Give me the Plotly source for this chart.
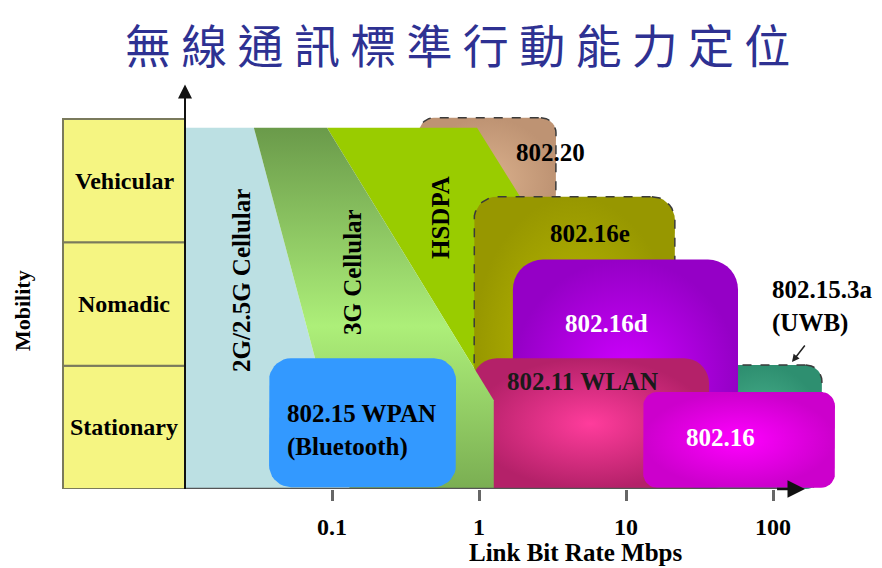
import numpy as np
import plotly.graph_objects as go

# ---------------- data ----------------
title_text = "無 線 通 訊 標 準 行 動 能 力 定 位"
mobility_levels = ["Stationary", "Nomadic", "Vehicular"]   # mobility 0-1, 1-2, 2-3
tick_rates = [0.1, 1, 10, 100]
tick_labels = ["0.1", "1", "10", "100"]
x_title = "Link Bit Rate Mbps"
y_title = "Mobility"

# cellular regions (polygons): link rate in Mbps, mobility level 0..3
cell2g_rate = [0.01, 0.0294, 0.132, 0.01]
cell2g_mob = [2.93, 2.93, 0.0, 0.0]
cell3g_rate = [0.0294, 0.0925, 1.26, 1.26, 0.132]
cell3g_mob = [2.93, 2.93, 0.72, 0.0, 0.0]
hsdpa_rate = [0.0925, 0.97, 32.9, 1.26, 1.26]
hsdpa_mob = [2.93, 2.93, 0.0, 0.0, 0.72]

# standards drawn as rounded boxes
std_names = ["802.20", "802.16e", "802.15.3a", "802.16d", "802.11 WLAN", "802.16", "802.15 WPAN"]
std_rate_lo = [0.39, 0.925, 33.0, 1.70, 0.895, 13.1, 0.0373]
std_rate_hi = [3.34, 21.5, 215.0, 57.8, 36.7, 264.0, 0.698]
std_mob_lo = [2.0, 0.0, 0.0, 0.0, 0.0, 0.01, 0.015]
std_mob_hi = [3.01, 2.37, 1.005, 1.86, 1.06, 0.787, 1.06]
axis_origin_rate = 0.01
axis_end_rate = 165.0
axis_top_mob = 3.28

# ---------------- layout geometry (pixels) ----------------
W, H = 882, 568
PB = 489            # pixel row of the x axis
DEC = 147.0         # pixels per decade
PX01 = 332.0        # pixel column of 0.1 Mbps
ROW = 123.33        # pixels per mobility level


def X(px):
    return (px - PX01) / DEC - 1.0


def Y(py):
    return (PB - py) / ROW


def lx(rate):
    return float(np.log10(rate))


SERIF = "Liberation Serif"

styles = {
    "802.20": dict(r=15, c0="#DAB08C", c1="#BE9373", dash=True),
    "802.16e": dict(r=23, c0="#BBBB00", c1="#979700", dash=True),
    "802.15.3a": dict(r=16, c0="#4BB38E", c1="#2E8F70", dash=True),
    "802.16d": dict(r=30, c0="#CF00FF", c1="#9500C6", dash=False),
    "802.11 WLAN": dict(r=25, c0="#FF3C9C", c1="#B42169", dash=False),
    "802.16": dict(r=14, c0="#FF00FF", c1="#CC00CC", dash=False),
    "802.15 WPAN": dict(r=22, c0="#3399FF", c1="#3399FF", dash=False),
}


def rounded(x0, x1, y0, y1, r_px, n=10):
    rx, ry = r_px / DEC, r_px / ROW
    xs, ys = [], []
    corners = [((x1 - rx, y1 - ry), 90, 0), ((x1 - rx, y0 + ry), 0, -90),
               ((x0 + rx, y0 + ry), -90, -180), ((x0 + rx, y1 - ry), 180, 90)]
    for (cx, cy), a0, a1 in corners:
        for a in np.linspace(np.radians(a0), np.radians(a1), n):
            xs.append(cx + rx * np.cos(a))
            ys.append(cy + ry * np.sin(a))
    xs.append(xs[0]); ys.append(ys[0])
    return xs, ys


fig = go.Figure()


def add_box(name):
    i = std_names.index(name)
    st = styles[name]
    xs, ys = rounded(lx(std_rate_lo[i]), lx(std_rate_hi[i]), std_mob_lo[i], std_mob_hi[i], st["r"])
    line = dict(color="#3A3A3A", width=1.5, dash="dash") if st["dash"] else dict(width=0)
    kw = {}
    if st["c0"] != st["c1"]:
        kw["fillgradient"] = dict(type="radial", colorscale=[[0, st["c0"]], [1, st["c1"]]])
    fig.add_trace(go.Scatter(x=xs, y=ys, mode="lines", fill="toself", fillcolor=st["c1"],
                             line=line, hoverinfo="skip", showlegend=False, name=name, **kw))


def add_poly(rates, mobs, color, name, grad=None):
    xs = [lx(r) for r in rates] + [lx(rates[0])]
    ys = list(mobs) + [mobs[0]]
    kw = {}
    if grad is not None:
        kw["fillgradient"] = grad
    fig.add_trace(go.Scatter(x=xs, y=ys, mode="lines", fill="toself", fillcolor=color,
                             line=dict(width=0), hoverinfo="skip", showlegend=False, name=name, **kw))


add_box("802.20")
add_poly(hsdpa_rate, hsdpa_mob, "#99CC00", "HSDPA")
add_box("802.16e")
add_box("802.15.3a")
add_box("802.16d")
add_box("802.11 WLAN")
add_poly(cell2g_rate, cell2g_mob, "#BCE0E3", "2G/2.5G Cellular")
add_poly(cell3g_rate, cell3g_mob, "#8CC860", "3G Cellular",
         grad=dict(type="vertical",
                   colorscale=[[0, "#7AAE52"], [0.45, "#ADEF79"], [1, "#6A9A4A"]]))
add_box("802.16")
add_box("802.15 WPAN")

shapes = []
# yellow mobility label column
for k in range(3):
    shapes.append(dict(type="rect", xref="x", yref="y", x0=X(63), x1=lx(axis_origin_rate),
                       y0=k, y1=k + 1, fillcolor="#F5F582",
                       line=dict(color="#7A7A5C", width=2), layer="above"))
# axis lines
shapes.append(dict(type="line", xref="x", yref="y", x0=lx(axis_origin_rate), x1=lx(axis_end_rate) - 0.05,
                   y0=0, y1=0, line=dict(color="#555555", width=2.5), layer="above"))
shapes.append(dict(type="line", xref="x", yref="y", x0=lx(axis_origin_rate), x1=lx(axis_origin_rate),
                   y0=0, y1=axis_top_mob - 0.05, line=dict(color="#111111", width=2), layer="above"))

ann = []


def text(px, py, s, size=25, color="black", angle=0, xanchor="center", align="center"):
    ann.append(dict(x=X(px), y=Y(py), xref="x", yref="y", text=s, showarrow=False,
                    textangle=angle, xanchor=xanchor, yanchor="middle", align=align,
                    font=dict(family=SERIF, size=size, color=color, weight="bold")))


# arrow heads of axes
ann.append(dict(x=lx(axis_end_rate), y=0, ax=lx(axis_end_rate) - 0.2, ay=0, axref="x", ayref="y",
                xref="x", yref="y", text="", showarrow=True, arrowhead=2, arrowsize=1.4,
                arrowwidth=2.5, arrowcolor="#111111", standoff=0))
ann.append(dict(x=lx(axis_origin_rate), y=axis_top_mob, ax=lx(axis_origin_rate), ay=axis_top_mob - 0.3,
                axref="x", ayref="y", xref="x", yref="y", text="", showarrow=True, arrowhead=2,
                arrowsize=1.4, arrowwidth=2, arrowcolor="#111111", standoff=0))

# title
ann.append(dict(x=X(457), y=Y(43), xref="x", yref="y", text=title_text, showarrow=False,
                font=dict(family="Noto Sans CJK TC", size=46, color="#2E3192")))

# mobility labels
for k, name in enumerate(mobility_levels):
    ann.append(dict(x=(X(63) + lx(axis_origin_rate)) / 2, y=k + 0.5, xref="x", yref="y", text=name,
                    showarrow=False, font=dict(family=SERIF, size=24, color="black", weight="bold")))

text(22, 311, y_title, size=22, angle=-90)
# x-axis title below the plot area (paper coordinates)
ann.append(dict(x=576 / W, y=(PB - 552) / PB, xref="paper", yref="paper", text=x_title,
                showarrow=False, xanchor="center", yanchor="middle",
                font=dict(family=SERIF, size=25, color="black", weight="bold")))

# region labels
text(241, 281, "2G/2.5G Cellular", angle=-90)
text(352, 272, "3G Cellular", angle=-90)
text(440, 218, "HSDPA", angle=-90)
text(550, 152, "802.20")
text(590, 233, "802.16e")
text(606, 323, "802.16d", color="white")
text(582, 381, "802.11 WLAN", color="#1A1A1A")
text(720, 437, "802.16", color="white")
text(285, 430, "802.15 WPAN<br>(Bluetooth)", xanchor="left", align="left")
text(770, 306, "802.15.3a<br>(UWB)", xanchor="left", align="left")

# small pointer to UWB box
ann.append(dict(x=X(792), y=Y(362), xref="x", yref="y", ax=14, ay=-18, text="", showarrow=True,
                arrowhead=2, arrowsize=1, arrowwidth=1.5, arrowcolor="#222222", standoff=0))

fig.update_layout(
    width=W, height=H,
    margin=dict(l=0, r=0, t=0, b=H - PB),
    paper_bgcolor="white", plot_bgcolor="white",
    shapes=shapes, annotations=ann,
    showlegend=False,
    xaxis=dict(range=[X(0), X(W)], showgrid=False, zeroline=False, showline=False,
               tickmode="array", tickvals=[lx(t) for t in tick_rates], ticktext=tick_labels,
               ticks="outside", ticklen=11, tickwidth=3, tickcolor="#666666",
               ticklabelstandoff=5,
               tickfont=dict(family=SERIF, size=24, color="black", weight="bold"),
               fixedrange=True),
    yaxis=dict(range=[0, Y(0)], showgrid=False, zeroline=False, showline=False,
               showticklabels=False, ticks="", fixedrange=True),
)

fig.write_html("out.html")
